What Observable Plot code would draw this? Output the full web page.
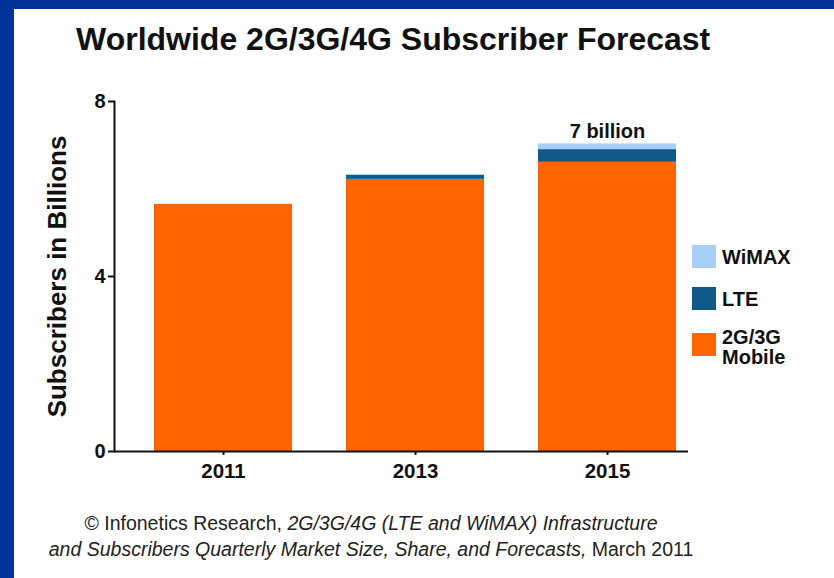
<!DOCTYPE html>
<html><head><meta charset="utf-8">
<script src="https://cdn.jsdelivr.net/npm/d3@7"></script>
<script src="https://cdn.jsdelivr.net/npm/@observablehq/plot@0.6"></script>
<style>
html,body{margin:0;padding:0;background:#fff;}
#page{position:relative;width:834px;height:578px;overflow:hidden;background:#fff;font-family:"Liberation Sans",Arial,sans-serif;color:#111;}
#bt{position:absolute;left:0;top:0;width:834px;height:9px;background:#003399;}
#bl{position:absolute;left:0;top:0;width:14px;height:578px;background:#003399;}
#title{position:absolute;left:76px;top:23px;font-size:32px;line-height:32px;font-weight:bold;white-space:nowrap;}
#chart{position:absolute;left:0;top:80px;}
#legend{position:absolute;left:692px;top:245px;width:130px;height:130px;}
.item{position:absolute;left:0;}
.sw{position:absolute;left:0;top:0;width:24px;height:23px;}
.lab{position:absolute;left:30px;font-size:20px;line-height:20px;font-weight:bold;white-space:nowrap;}
#caption{position:absolute;left:0;width:742px;top:510px;text-align:center;font-size:19.5px;line-height:26px;color:#222;}
</style></head><body>
<div id="page">
  <div id="bt"></div><div id="bl"></div>
  <div id="title"></div>
  <div id="chart"></div>
  <div id="legend"></div>
  <div id="caption"></div>
</div>
<script>
// ---- data ----
const titleText = "Worldwide 2G/3G/4G Subscriber Forecast";
const yLabel = "Subscribers in Billions";
const years = ["2011", "2013", "2015"];
const seriesNames = ["2G/3G Mobile", "LTE", "WiMAX"];
const mobile = [5.65, 6.22, 6.61];
const lte = [0, 0.09, 0.29];
const wimax = [0, 0.02, 0.13];
const colors = ["#ff6600", "#0f5a88", "#a6cff3"];
const yTicks = [0, 4, 8];
const annotationText = "7 billion";
const annotationYear = "2015";
const legendLines = [["WiMAX"], ["LTE"], ["2G/3G", "Mobile"]]; // top to bottom
const legendSeries = ["WiMAX", "LTE", "2G/3G Mobile"];
const captionLine1 = ["© Infonetics Research, ", "2G/3G/4G (LTE and WiMAX) Infrastructure"];
const captionLine2 = ["and Subscribers Quarterly Market Size, Share, and Forecasts,", " March 2011"];

// ---- build ----
document.getElementById("title").textContent = titleText;

const data = [];
years.forEach((yr, i) => {
  [mobile, lte, wimax].forEach((arr, j) => data.push({year: yr, series: seriesNames[j], value: arr[i]}));
});
const totals = years.map((yr, i) => ({year: yr, total: mobile[i] + lte[i] + wimax[i]}));

const chart = Plot.plot({
  width: 834, height: 400,
  marginTop: 21, marginBottom: 29, marginLeft: 114, marginRight: 146,
  style: {fontFamily: '"Liberation Sans", Arial, sans-serif', color: "#111", background: "transparent", overflow: "visible"},
  x: {domain: years, range: [153, 677], paddingInner: 0.28, paddingOuter: 0, label: null},
  y: {domain: [0, 8], label: null},
  color: {domain: seriesNames, range: colors},
  marks: [
    Plot.barY(data, {x: "year", y: "value", fill: "series"}),
    Plot.ruleY([0], {stroke: "#111", strokeWidth: 2}),
    Plot.frame({anchor: "left", stroke: "#111", strokeWidth: 2}),
    Plot.axisY({ticks: yTicks, tickSize: 6, tickPadding: 3, strokeWidth: 2, fontSize: 20, fontWeight: "bold", label: null}),
    Plot.axisX({tickSize: 4, tickPadding: 8, strokeWidth: 2, fontSize: 20.5, fontWeight: "bold", label: null}),
    Plot.text([yLabel], {frameAnchor: "left", textAnchor: "middle", rotate: -90, dx: -57, fontSize: 26, fontWeight: "bold"}),
    Plot.text(totals.filter(d => d.year === annotationYear), {x: "year", y: "total", text: () => annotationText, dy: -12, fontSize: 20, fontWeight: "bold"})
  ]
});
document.getElementById("chart").appendChild(chart);

// legend
const itemTops = [0, 42, 88];
const legend = document.getElementById("legend");
legendSeries.forEach((s, k) => {
  const item = document.createElement("div");
  item.className = "item";
  item.style.top = itemTops[k] + "px";
  const sw = document.createElement("div");
  sw.className = "sw";
  sw.style.background = colors[seriesNames.indexOf(s)];
  const lab = document.createElement("div");
  lab.className = "lab";
  const lines = legendLines[k];
  lab.style.top = (lines.length === 1 ? 2 : -6) + "px";
  lines.forEach((ln, li) => {
    if (li) lab.appendChild(document.createElement("br"));
    lab.appendChild(document.createTextNode(ln));
  });
  item.appendChild(sw);
  item.appendChild(lab);
  legend.appendChild(item);
});

// caption
const cap = document.getElementById("caption");
const l1 = document.createElement("div");
l1.appendChild(document.createTextNode(captionLine1[0]));
const i1 = document.createElement("i"); i1.textContent = captionLine1[1]; l1.appendChild(i1);
const l2 = document.createElement("div");
const i2 = document.createElement("i"); i2.textContent = captionLine2[0]; l2.appendChild(i2);
l2.appendChild(document.createTextNode(captionLine2[1]));
cap.appendChild(l1); cap.appendChild(l2);
</script>
</body></html>
